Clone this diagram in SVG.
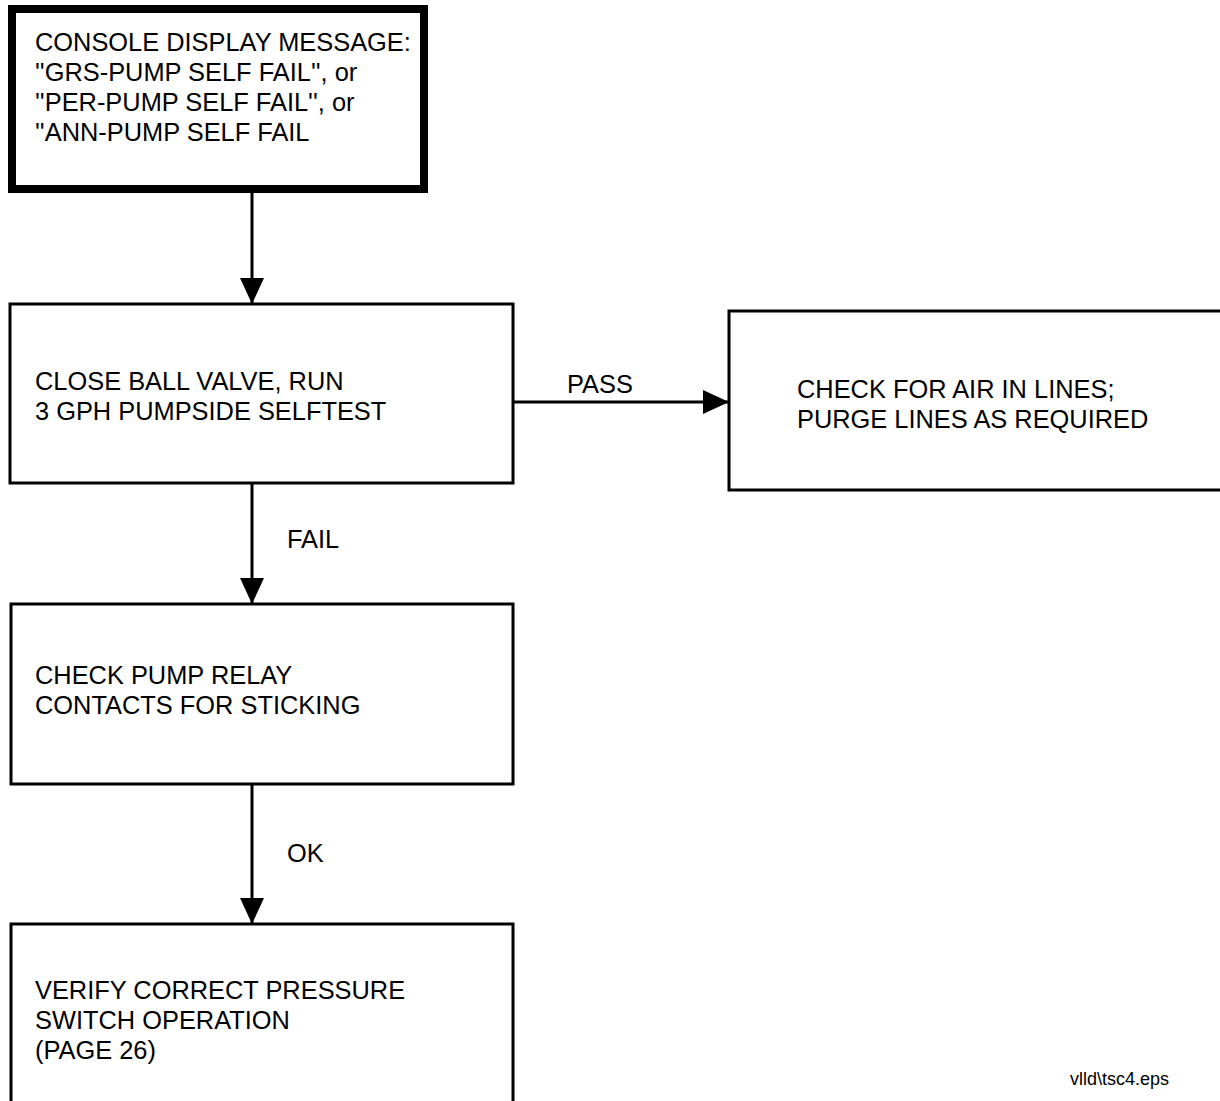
<svg xmlns="http://www.w3.org/2000/svg" width="1220" height="1101" viewBox="0 0 1220 1101">
<style>
.box{fill:#fff;stroke:#000;stroke-width:3}
.thick{fill:#fff;stroke:#000;stroke-width:8}
.t{font-family:"Liberation Sans",Arial,sans-serif;font-size:25.4px;fill:#000}
.s{font-family:"Liberation Sans",Arial,sans-serif;font-size:18px;fill:#000}
.c{stroke:#000;stroke-width:3;fill:none;marker-end:url(#ah)}
</style>
<defs>
<marker id="ah" markerUnits="userSpaceOnUse" markerWidth="26" markerHeight="24" refX="26" refY="12" orient="auto">
<path d="M0,0 L26,12 L0,24 Z" fill="#000"/>
</marker>
</defs>
<rect width="1220" height="1101" fill="#fff"/>
<g id="connectors">
<line class="c" x1="252" y1="193" x2="252" y2="304"/>
<line class="c" x1="513" y1="402" x2="729" y2="402"/>
<line class="c" x1="252" y1="484" x2="252" y2="604"/>
<line class="c" x1="252" y1="784" x2="252" y2="924"/>
<text class="t" x="567" y="393">PASS</text>
<text class="t" x="287" y="548">FAIL</text>
<text class="t" x="287" y="862">OK</text>
</g>
<g id="n1">
<rect class="thick" x="12" y="9" width="412" height="180"/>
<text class="t" x="35" y="51">CONSOLE DISPLAY MESSAGE:</text>
<text class="t" x="35" y="81">''GRS-PUMP SELF FAIL'', or</text>
<text class="t" x="35" y="111">''PER-PUMP SELF FAIL'', or</text>
<text class="t" x="35" y="141">''ANN-PUMP SELF FAIL</text>
</g>
<g id="n2">
<rect class="box" x="10" y="304" width="503" height="179"/>
<text class="t" x="35" y="390">CLOSE BALL VALVE, RUN</text>
<text class="t" x="35" y="420">3 GPH PUMPSIDE SELFTEST</text>
</g>
<g id="n3">
<rect class="box" x="729" y="311" width="520" height="179"/>
<text class="t" x="797" y="398">CHECK FOR AIR IN LINES;</text>
<text class="t" x="797" y="428">PURGE LINES AS REQUIRED</text>
</g>
<g id="n4">
<rect class="box" x="11" y="604" width="502" height="180"/>
<text class="t" x="35" y="684">CHECK PUMP RELAY</text>
<text class="t" x="35" y="714">CONTACTS FOR STICKING</text>
</g>
<g id="n5">
<rect class="box" x="11" y="924" width="502" height="200"/>
<text class="t" x="35" y="999">VERIFY CORRECT PRESSURE</text>
<text class="t" x="35" y="1029">SWITCH OPERATION</text>
<text class="t" x="35" y="1059">(PAGE 26)</text>
</g>
<text class="s" x="1070" y="1085">vlld\tsc4.eps</text>
</svg>
